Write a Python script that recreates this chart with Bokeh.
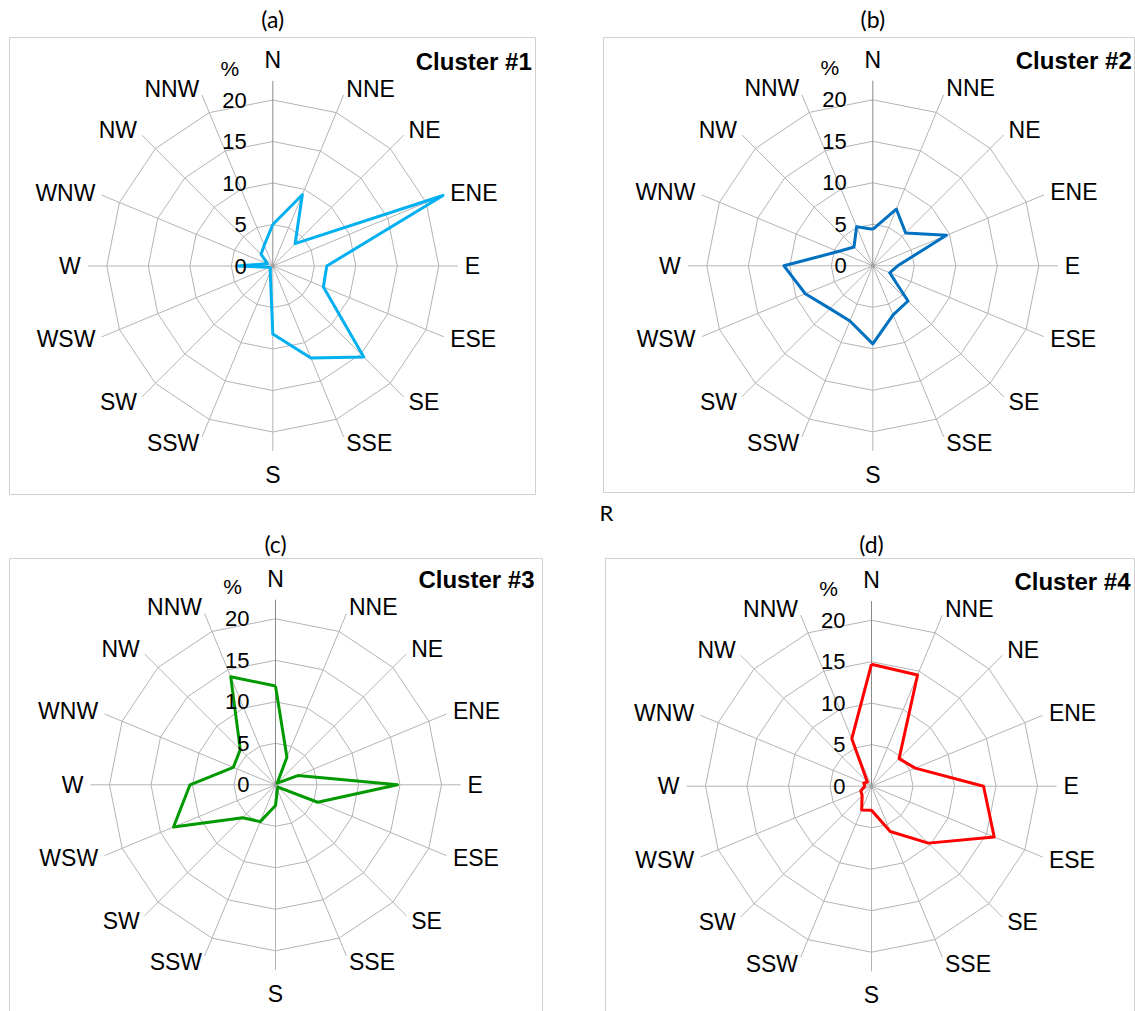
import numpy as np
from bokeh.plotting import figure
from bokeh.models import Range1d, ColumnDataSource
from bokeh.layouts import column, row
from bokeh.embed import file_html
from bokeh.resources import INLINE
from bokeh.core.properties import value

# ---------------- data ----------------
directions = ["N", "NNE", "NE", "ENE", "E", "ESE", "SE", "SSE",
              "S", "SSW", "SW", "WSW", "W", "WNW", "NW", "NNW"]
ring_values = [5, 10, 15, 20]
tick_values = [0, 5, 10, 15, 20]
tick_labels = ["0", "5", "10", "15", "20"]
panel_titles = ["(a)", "(b)", "(c)", "(d)"]
cluster_names = ["Cluster #1", "Cluster #2", "Cluster #3", "Cluster #4"]

cluster1 = [5.0, 9.3, 3.8, 22.2, 6.5, 6.6, 15.5, 12.0, 8.2, 0.8, 0.4, 0.4, 4.3, 0.7, 2.0, 2.7]
cluster2 = [4.4, 7.4, 5.6, 9.6, 3.0, 2.2, 6.0, 6.4, 9.4, 7.2, 7.3, 8.8, 10.7, 4.5, 3.2, 5.1]
cluster3 = [11.9, 3.6, 0.3, 2.9, 14.7, 5.5, 0.4, 0.6, 2.5, 4.8, 5.6, 13.3, 10.3, 5.5, 6.0, 14.1]
cluster4 = [14.7, 14.5, 4.7, 5.7, 13.5, 16.0, 9.7, 5.9, 2.9, 3.1, 1.6, 1.4, 0.8, 1.0, 0.7, 6.2]
series = [cluster1, cluster2, cluster3, cluster4]
colors = ["#00B0F0", "#0070C0", "#009900", "#FF0000"]

# ---------------- layout constants ----------------
K = 8.3            # pixels per percent
RMAX = 22.3        # spoke length (percent)
ORIGINS = [(0, 0), (568, 0), (0, 528), (568, 528)]
SIZES = [(568, 528), (567, 528), (568, 483), (567, 483)]
CENTERS = [(272.3, 265.5), (872.3, 265.3), (275.0, 784.3), (871.0, 785.7)]  # picture px
BOXES = [(9, 37, 535, 494), (603, 37, 1134, 492), (9, 558, 542, 1030), (605, 558, 1134, 1030)]
TITLE_Y = [18, 18, 543, 543]

FONT = value("Liberation Sans")
TFONT = value("Lato")

theta = np.deg2rad(np.arange(16) * 22.5)
sx_dir = np.sin(theta)
cy_dir = np.cos(theta)


def make_panel(i):
    ox, oy = ORIGINS[i]
    w, h = SIZES[i]
    scx, scy = CENTERS[i]
    cx = scx - ox
    cy = scy - oy

    def to_u(sx, sy):
        return ((sx - ox) - cx) / K, (cy - (sy - oy)) / K

    p = figure(width=w, height=h,
               x_range=Range1d(-cx / K, (w - cx) / K),
               y_range=Range1d((cy - h) / K, cy / K),
               output_backend="svg", toolbar_location=None,
               x_axis_type=None, y_axis_type=None,
               min_border=0, outline_line_color=None,
               background_fill_color="white", border_fill_color="white")
    p.grid.visible = False

    # panel box
    l, t = to_u(BOXES[i][0], BOXES[i][1])
    r, b = to_u(BOXES[i][2], BOXES[i][3])
    p.quad(left=[l], right=[r], top=[t], bottom=[b], fill_color=None,
           line_color="#d0d0d0", line_width=1)

    # rings
    for rv in ring_values:
        xs = list(rv * sx_dir) + [rv * sx_dir[0]]
        ys = list(rv * cy_dir) + [rv * cy_dir[0]]
        p.line(xs, ys, line_color="#b4b4b4", line_width=1)

    # spokes
    p.multi_line([[0, RMAX * sx_dir[k]] for k in range(1, 16)],
                 [[0, RMAX * cy_dir[k]] for k in range(1, 16)],
                 line_color="#b4b4b4", line_width=1)
    p.line([0, 0], [0, RMAX], line_color="#8a8a8a", line_width=1)
    p.scatter([0], [0], size=4, fill_color="#a0a0a0", line_color=None)

    # data polygon
    vals = np.array(series[i])
    xs = list(vals * sx_dir) + [vals[0] * sx_dir[0]]
    ys = list(vals * cy_dir) + [vals[0] * cy_dir[0]]
    p.line(xs, ys, line_color=colors[i], line_width=3, line_join="round")

    # direction labels
    lx, ly, la, lb = [], [], [], []
    for k in range(16):
        if k == 0:
            lx.append(0); ly.append(193 / K); la.append("center"); lb.append("bottom")
        elif k == 8:
            lx.append(0); ly.append(-196 / K); la.append("center"); lb.append("top")
        else:
            rr = 192 / K
            lx.append(rr * sx_dir[k]); ly.append(rr * cy_dir[k])
            la.append("left" if sx_dir[k] > 0 else "right"); lb.append("middle")
    src = ColumnDataSource(dict(x=lx, y=ly, t=directions, a=la, b=lb))
    p.text(x="x", y="y", text="t", text_align="a", text_baseline="b", source=src,
           text_font=FONT, text_font_size="23px", text_color="#000000")

    # radial tick labels
    p.text(x=[-26 / K] * len(tick_values), y=tick_values, text=tick_labels,
           text_align="right", text_baseline="middle",
           text_font=FONT, text_font_size="22px", text_color="#000000")
    p.text(x=[-43 / K], y=[198 / K], text=["%"], text_align="center",
           text_baseline="middle", text_font=FONT, text_font_size="21px",
           text_color="#000000")

    # cluster name
    p.text(x=[259 / K], y=[205 / K], text=[cluster_names[i]], text_align="right",
           text_baseline="middle", text_font=FONT, text_font_size="24px",
           text_font_style="bold", text_color="#000000")

    # panel title
    tx, ty = to_u(scx, TITLE_Y[i])
    p.text(x=[tx], y=[ty], text=[panel_titles[i]], text_align="center",
           text_baseline="middle", text_font=TFONT, text_font_size="23px",
           text_color="#000000")

    if i == 1:
        rx, ry = to_u(606, 512)
        p.text(x=[rx], y=[ry], text=["R"], text_align="center",
               text_baseline="middle", text_font=TFONT, text_font_size="22px",
               text_color="#000000")
    return p


panels = [make_panel(i) for i in range(4)]
layout = column(row(panels[0], panels[1]), row(panels[2], panels[3]))

with open("out.html", "w") as f:
    f.write(file_html(layout, INLINE))
